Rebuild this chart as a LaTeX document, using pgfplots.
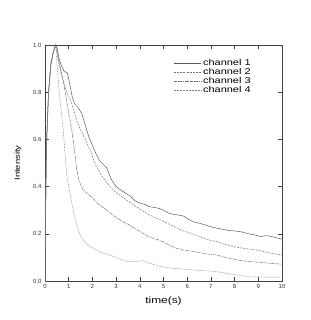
\documentclass[border=0pt]{standalone}
\usepackage{pgfplots}
\pgfplotsset{compat=1.18}
\usepackage{fontspec}
\setmainfont{Liberation Sans}
\newfontfamily\widesans[FakeStretch=1.3]{Liberation Sans}
\begin{document}
\begin{tikzpicture}
\path[use as bounding box] (-45bp,-39bp) rectangle (266bp,281bp);
\begin{axis}[
  at={(0,0)}, anchor=south west,
  scale only axis, width=237bp, height=236bp,
  xmin=0, xmax=10, ymin=0, ymax=1,
  xtick={0,1,...,10}, ytick={0,0.2,...,1.0},
  yticklabel style={/pgf/number format/.cd, fixed, fixed zerofill, precision=1},
  /pgf/number format/assume math mode=true,
  tick label style={font=\fontsize{6}{7}\selectfont, black!80},
  tick align=inside, tick pos=both, major tick length=4bp,
  axis line style={black!75, line width=0.7pt},
  every tick/.style={black!75, line width=0.6pt},
  xlabel={time(s)}, ylabel={Intensity},
  xlabel style={font=\widesans\fontsize{9.2}{10}\selectfont, yshift=-1pt},
  ylabel style={font=\widesans\fontsize{7.3}{8}\selectfont, yshift=5pt},
  legend style={draw=none, fill=none, at={(0.89,0.955)}, anchor=north east,
     font=\widesans\fontsize{8.5}{9}\selectfont, row sep=-2.8pt,
     nodes={inner sep=2pt}},
  legend cell align=left,
  legend image code/.code={\draw[#1] (0cm,0cm) -- (0.95cm,0cm);},
]
\addplot[black!65, line width=0.5pt] coordinates {
(0,0) (0.02,0.25) (0.05,0.5) (0.08,0.62) (0.15,0.8) (0.25,0.92) (0.35,0.97) (0.45,1.0)
(0.5,0.99) (0.6,0.94) (0.7,0.91) (0.8,0.89) (0.95,0.88) (1.05,0.83) (1.15,0.78) (1.25,0.75)
(1.4,0.735) (1.55,0.71) (1.7,0.66) (1.85,0.61) (2.0,0.575) (2.15,0.54) (2.3,0.51) (2.45,0.495)
(2.6,0.48) (2.7,0.455) (2.8,0.43) (3.0,0.40) (3.2,0.385) (3.4,0.372) (3.6,0.36) (3.8,0.34)
(4.0,0.33) (4.2,0.325) (4.4,0.315) (4.6,0.312) (4.8,0.308) (5.0,0.30) (5.2,0.288) (5.4,0.283)
(5.6,0.28) (5.85,0.275) (6.05,0.262) (6.25,0.251) (6.5,0.245) (6.75,0.238) (7.0,0.23) (7.3,0.223)
(7.7,0.215) (8.0,0.212) (8.3,0.208) (8.6,0.2) (8.9,0.194) (9.1,0.188) (9.3,0.192) (9.5,0.19)
(9.7,0.185) (10,0.177)};
\addlegendentry{channel 1}
\addplot[black!55, line width=0.5pt, dash pattern=on 2pt off 1.2pt] coordinates {
(0,0) (0.02,0.25) (0.05,0.5) (0.08,0.62) (0.15,0.8) (0.25,0.92) (0.35,0.97) (0.45,1.0)
(0.5,0.99) (0.6,0.92) (0.7,0.87) (0.85,0.82) (1.0,0.78) (1.13,0.75) (1.34,0.68) (1.5,0.64)
(1.7,0.6) (1.9,0.555) (2.1,0.5) (2.25,0.47) (2.5,0.43) (2.75,0.40) (3.0,0.375) (3.16,0.364)
(3.4,0.345) (3.7,0.325) (4.0,0.305) (4.4,0.28) (4.85,0.26) (5.2,0.243) (5.5,0.228) (5.84,0.212)
(6.2,0.2) (6.6,0.185) (7.0,0.172) (7.24,0.167) (7.6,0.155) (8.0,0.145) (8.3,0.14) (8.65,0.135)
(9.0,0.13) (9.4,0.12) (9.7,0.115) (10,0.11)};
\addlegendentry{channel 2}
\addplot[black!55, line width=0.5pt, dash pattern=on 3pt off 0.8pt on 0.8pt off 0.8pt] coordinates {
(0,0) (0.02,0.25) (0.05,0.5) (0.08,0.62) (0.15,0.8) (0.25,0.92) (0.35,0.97) (0.45,1.0)
(0.5,0.97) (0.6,0.92) (0.77,0.85) (0.95,0.74) (1.13,0.64) (1.25,0.55) (1.34,0.47) (1.45,0.42)
(1.62,0.385) (1.8,0.37) (2.04,0.35) (2.2,0.33) (2.4,0.315) (2.6,0.30) (2.8,0.285) (3.0,0.27)
(3.3,0.25) (3.6,0.235) (4.0,0.21) (4.43,0.185) (4.85,0.172) (5.2,0.155) (5.5,0.14) (5.84,0.131)
(6.3,0.125) (6.8,0.115) (7.24,0.11) (7.6,0.1) (8.0,0.092) (8.3,0.086) (8.65,0.082) (9.0,0.08)
(9.5,0.075) (10,0.071)};
\addlegendentry{channel 3}
\addplot[black!50, line width=0.5pt, dash pattern=on 0.7pt off 0.8pt] coordinates {
(0,0) (0.02,0.25) (0.05,0.5) (0.08,0.62) (0.15,0.8) (0.25,0.92) (0.35,0.97) (0.45,1.0)
(0.5,0.93) (0.56,0.85) (0.65,0.75) (0.77,0.64) (0.85,0.53) (0.92,0.45) (1.0,0.40) (1.13,0.33)
(1.25,0.27) (1.4,0.216) (1.5,0.19) (1.62,0.174) (1.75,0.16) (1.9,0.145) (2.1,0.135) (2.4,0.12)
(2.74,0.11) (3.1,0.095) (3.45,0.082) (3.8,0.083) (4.15,0.086) (4.43,0.075) (4.85,0.062) (5.3,0.055)
(5.84,0.05) (6.5,0.045) (7.24,0.04) (7.8,0.03) (8.3,0.022) (8.65,0.018) (9.2,0.017) (10,0.016)};
\addlegendentry{channel 4}
\end{axis}
\end{tikzpicture}
\end{document}
